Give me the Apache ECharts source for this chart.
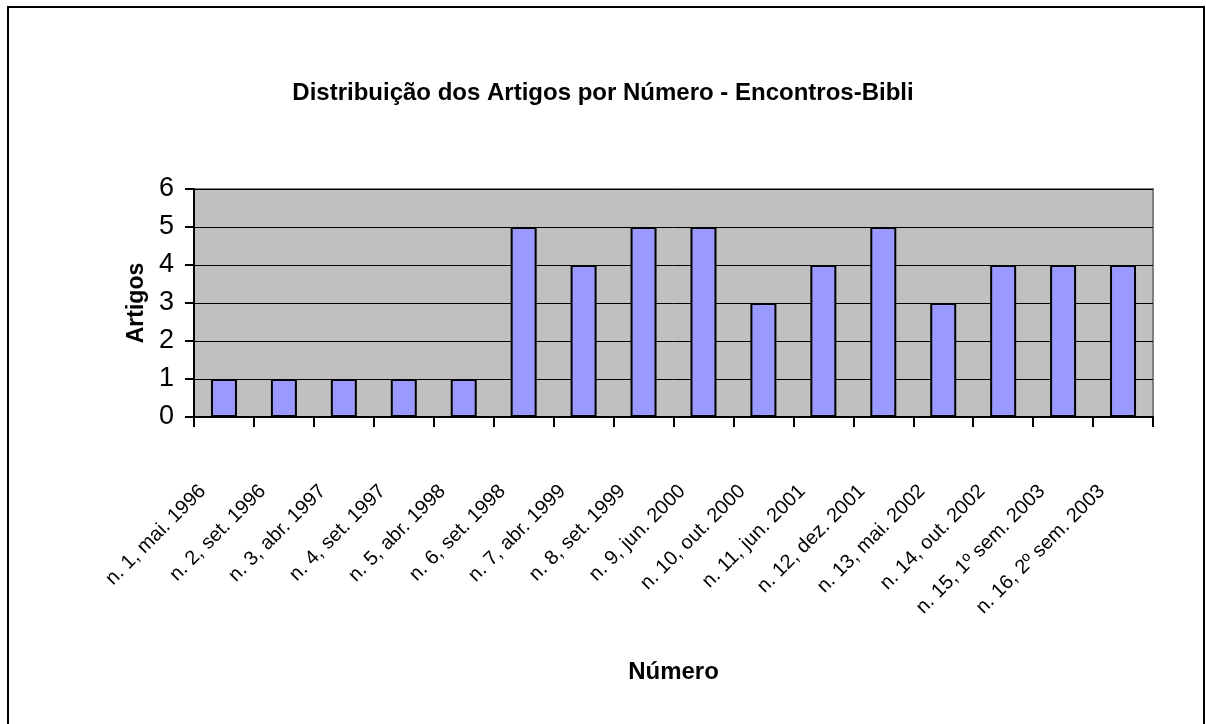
<!DOCTYPE html>
<html>
    <head>
        <meta charset="utf-8" />
        <script src="https://cdn.jsdelivr.net/npm/echarts@6/dist/echarts.min.js"></script>
        <style>
            html,
            body {
                margin: 0;
                padding: 0;
                background: #fff;
            }
            #main {
                width: 1206px;
                height: 724px;
            }
        </style>
    </head>
    <body>
        <div id="main"></div>
        <script>
            var numeros = [
                "n. 1, mai. 1996",
                "n. 2, set. 1996",
                "n. 3, abr. 1997",
                "n. 4, set. 1997",
                "n. 5, abr. 1998",
                "n. 6, set. 1998",
                "n. 7, abr. 1999",
                "n. 8, set. 1999",
                "n. 9, jun. 2000",
                "n. 10, out. 2000",
                "n. 11, jun. 2001",
                "n. 12, dez. 2001",
                "n. 13, mai. 2002",
                "n. 14, out. 2002",
                "n. 15, 1º sem. 2003",
                "n. 16, 2º sem. 2003"
            ];
            var artigos = [1, 1, 1, 1, 1, 5, 4, 5, 5, 3, 4, 5, 3, 4, 4, 4];

            var font = "'Liberation Sans', Arial, sans-serif";
            var chart = echarts.init(document.getElementById("main"), null, {
                renderer: "canvas"
            });

            chart.setOption({
                animation: false,
                backgroundColor: "#fff",
                title: {
                    text: "Distribuição dos Artigos por Número - Encontros-Bibli",
                    left: "center",
                    top: 76,
                    textStyle: {
                        fontFamily: font,
                        fontSize: 24,
                        fontWeight: "bold",
                        color: "#000"
                    }
                },
                // moldura do gráfico
                graphic: [
                    {
                        type: "rect",
                        shape: { x: 8, y: 7, width: 1196, height: 740 },
                        style: { fill: "none", stroke: "#000", lineWidth: 2 },
                        silent: true
                    }
                ],
                grid: {
                    left: 194,
                    right: 53,
                    top: 189,
                    bottom: 307,
                    show: true,
                    backgroundColor: "#C0C0C0",
                    borderColor: "#808080",
                    borderWidth: 2
                },
                xAxis: {
                    type: "category",
                    data: numeros,
                    name: "Número",
                    nameLocation: "middle",
                    nameGap: 243,
                    nameTextStyle: {
                        fontFamily: font,
                        fontSize: 24,
                        fontWeight: "bold",
                        color: "#000"
                    },
                    axisLine: { lineStyle: { color: "#000", width: 2 } },
                    axisTick: {
                        show: true,
                        alignWithLabel: false,
                        length: 10,
                        lineStyle: { color: "#000", width: 2 }
                    },
                    axisLabel: {
                        interval: 0,
                        rotate: 45,
                        margin: 50,
                        padding: [0, 30, 0, 0],
                        fontFamily: font,
                        fontSize: 20,
                        color: "#000"
                    },
                    splitLine: { show: false }
                },
                yAxis: {
                    type: "value",
                    min: 0,
                    max: 6,
                    interval: 1,
                    name: "Artigos",
                    nameLocation: "middle",
                    nameRotate: 90,
                    nameGap: 36,
                    nameTextStyle: {
                        fontFamily: font,
                        fontSize: 23,
                        fontWeight: "bold",
                        color: "#000"
                    },
                    axisLine: { show: true, lineStyle: { color: "#000", width: 2 } },
                    axisTick: {
                        show: true,
                        length: 9,
                        lineStyle: { color: "#000", width: 2 }
                    },
                    axisLabel: {
                        margin: 20,
                        fontFamily: font,
                        fontSize: 27,
                        color: "#000"
                    },
                    splitLine: { lineStyle: { color: "#000", width: 1 } }
                },
                series: [
                    {
                        type: "bar",
                        data: artigos,
                        barWidth: 26,
                        itemStyle: {
                            color: "#9999FF",
                            borderColor: "#000",
                            borderWidth: 2
                        }
                    }
                ]
            });
        </script>
    </body>
</html>
